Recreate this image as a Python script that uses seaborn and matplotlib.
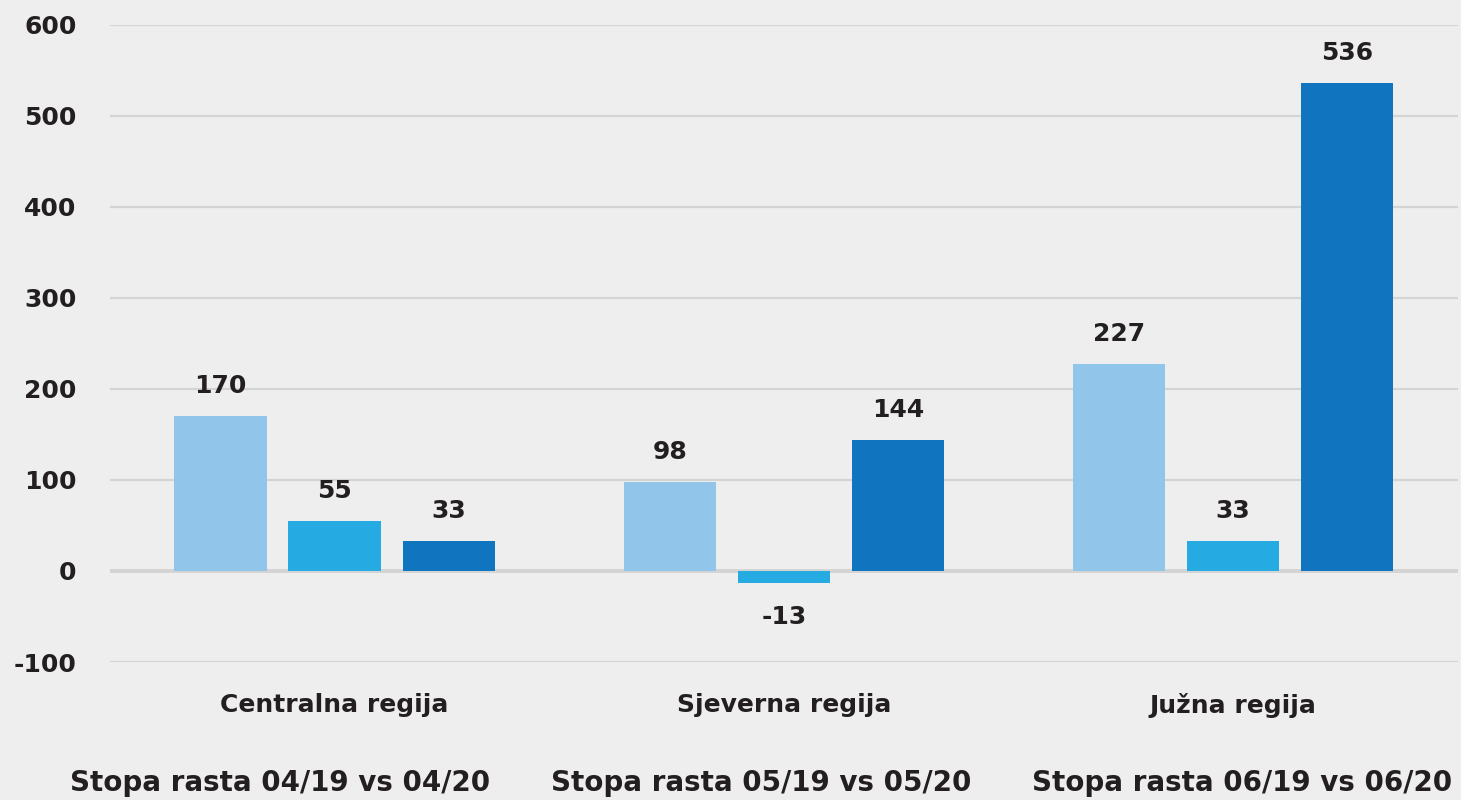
import matplotlib
matplotlib.use("Agg")
import matplotlib.pyplot as plt
import seaborn as sns
import pandas as pd
from matplotlib.patches import Patch

regions = ["Centralna regija", "Sjeverna regija", "Južna regija"]
series = ["Stopa rasta 04/19 vs 04/20", "Stopa rasta 05/19 vs 05/20", "Stopa rasta 06/19 vs 06/20"]
values_04 = [170, 98, 227]
values_05 = [55, -13, 33]
values_06 = [33, 144, 536]
colors = ["#92C5EA", "#25AAE1", "#1174BE"]
yticks = [-100, 0, 100, 200, 300, 400, 500, 600]

rows = []
for s, vals in zip(series, [values_04, values_05, values_06]):
    for r, v in zip(regions, vals):
        rows.append({"region": r, "series": s, "value": v})
df = pd.DataFrame(rows)

sns.set_theme(style="white")
plt.rcParams["font.family"] = ["DejaVu Sans"]
bg = "#EEEEEE"
txt = "#231F20"
fs = 18

fig = plt.figure(figsize=(14.61, 8.0), dpi=100, facecolor=bg)
ax = fig.add_axes([0.0753, 0.1725, 0.9225, 0.7963])
ax.set_facecolor(bg)

sns.barplot(data=df, x="region", y="value", hue="series", order=regions,
            hue_order=series, palette=colors, width=0.762, gap=0.19,
            saturation=1, ax=ax, legend=False, errorbar=None, linewidth=0)

ax.set_ylim(-100, 600)
ax.set_xlim(-0.5, 2.5)
ax.set_yticks(yticks)
ax.set_yticklabels([str(t) for t in yticks])
ax.grid(axis="y", color="#D4D4D4", linewidth=1.6)
ax.axhline(0, color="#D0D0D0", linewidth=2.6, zorder=0.5)
ax.set_axisbelow(True)
for sp in ax.spines.values():
    sp.set_visible(False)
ax.tick_params(axis="both", length=0, labelsize=fs, colors=txt)
for lab in ax.get_yticklabels() + ax.get_xticklabels():
    lab.set_fontweight("bold")
ax.tick_params(axis="y", pad=24)
ax.tick_params(axis="x", pad=22)
ax.set_xlabel("")
ax.set_ylabel("")

for cont in ax.containers:
    for bar in cont:
        h = bar.get_height()
        x = bar.get_x() + bar.get_width() / 2
        if h >= 0:
            ax.annotate(f"{h:.0f}", (x, h), xytext=(0, 13), textcoords="offset points",
                        ha="center", va="bottom", fontsize=fs, fontweight="bold", color=txt)
        else:
            ax.annotate(f"{h:.0f}", (x, h), xytext=(0, -16), textcoords="offset points",
                        ha="center", va="top", fontsize=fs, fontweight="bold", color=txt)

handles = [Patch(facecolor=c, edgecolor="none", alpha=0) for c in colors]
leg = fig.legend(handles, series, loc="lower center", bbox_to_anchor=(0.521, -0.027), ncol=3,
                 frameon=False, handlelength=0, handletextpad=0, columnspacing=2.2,
                 prop={"size": 20, "weight": "bold"})
for t in leg.get_texts():
    t.set_color(txt)

fig.savefig("out.png", dpi=100, facecolor=bg)
